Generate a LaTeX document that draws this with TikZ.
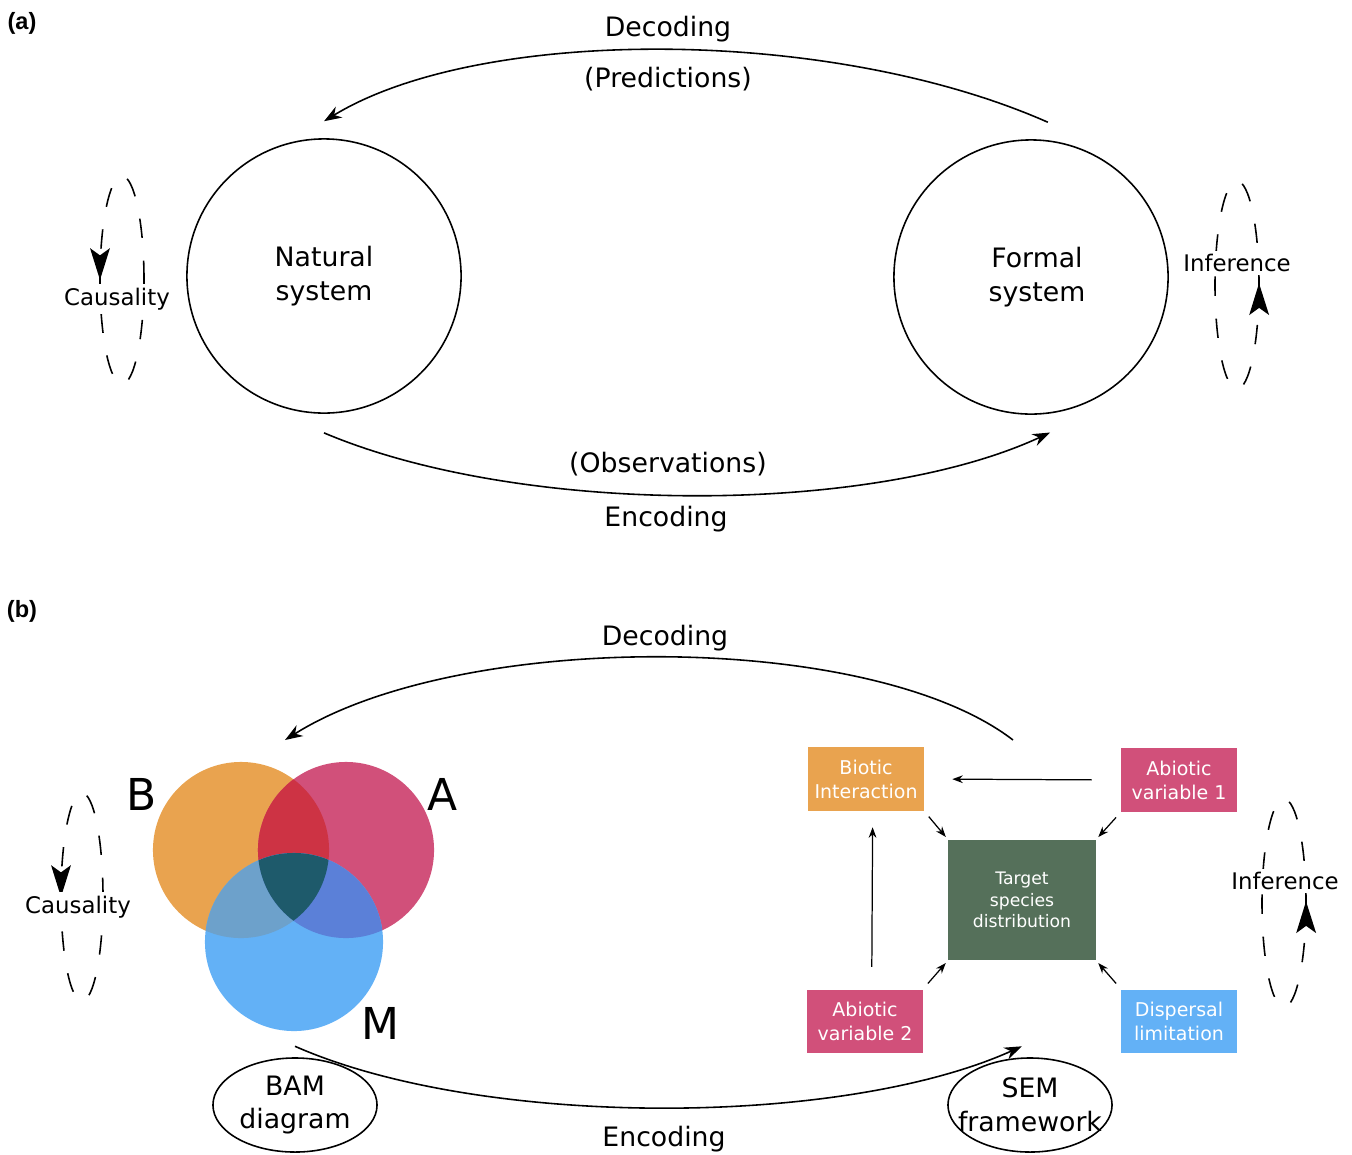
\documentclass[tikz,border=0pt]{standalone}
\usepackage{fontspec}
\setmainfont{DejaVu Sans}
\newfontfamily\panelfont{Liberation Sans}
\usepackage{xcolor}
\usetikzlibrary{arrows.meta}
\usetikzlibrary{shapes.geometric}
\usetikzlibrary{decorations.markings}

\definecolor{bcol}{HTML}{E9A34F}
\definecolor{acol}{HTML}{D1507A}
\definecolor{mcol}{HTML}{63B1F6}
\definecolor{bacol}{HTML}{CD3344}
\definecolor{bmcol}{HTML}{6DA1CB}
\definecolor{amcol}{HTML}{5B80D8}
\definecolor{bamcol}{HTML}{1E5A6B}
\definecolor{targetgreen}{HTML}{55705A}

\tikzset{
  sys/.style={circle,draw,line width=0.45pt,minimum size=2.74cm,inner sep=0pt,align=center,
    font=\fontsize{7.6}{9.6}\selectfont},
  theory/.style={inner sep=0pt,align=center,font=\fontsize{7.6}{9.6}\selectfont},
  arclab/.style={font=\fontsize{7.6}{9.6}\selectfont},
  panel/.style={font=\panelfont\bfseries\fontsize{6.7}{8}\selectfont},
  venn/.style={font=\fontsize{12.5}{14}\selectfont},
  feedbackloop/.style={draw,line width=0.45pt,dash pattern=on 5.5pt off 6.5pt},
  cycarrow/.style={postaction={decorate,decoration={markings,
    mark=at position #1 with {\arrow[line width=0.6pt]{Stealth[length=9pt,width=5.6pt,inset=2pt]}}}}},
  feedbacklab/.style={fill=white,inner sep=1pt,font=\fontsize{6.5}{8}\selectfont},
  varbox/.style={minimum width=1.15cm,minimum height=0.63cm,inner sep=0pt,text=white,
    align=center,font=\fontsize{5.4}{6.8}\selectfont},
  flow/.style={->,>={Stealth[length=5pt,width=3.6pt,inset=1.6pt]},line width=0.45pt},
  pathlink/.style={->,>={Stealth[length=3pt,width=2.2pt]},line width=0.35pt},
}

\begin{document}
\begin{tikzpicture}[x=0.01cm,y=-0.01cm]
\useasboundingbox (0,0) rectangle (1352,1154);

% (a) natural and formal system
\node[panel] (pa) at (22,23) {(a)};
\node[sys] (natural) at (324,276) {Natural\\system};
\node[sys] (formal) at (1031,277) {\hspace*{0.12cm}Formal\\\hspace*{0.12cm}system};

\draw[flow] ([yshift=5.1pt]formal.83) .. controls (830,26) and (480,26) .. ([yshift=4.8pt]natural.90);
\draw[flow] ([yshift=-5.4pt]natural.270) .. controls (520,516) and (870,516) .. ([yshift=-5.4pt]formal.278);
\node[arclab] (deca) at (668,29) {Decoding};
\node[arclab] (pred) at (668,79) {(Predictions)};
\node[arclab] (obs) at (668,464) {(Observations)};
\node[arclab] (enca) at (666,519) {Encoding};

\draw[feedbackloop,cycarrow=0.5] (122,280) ellipse [x radius=0.22cm,y radius=1.04cm];
\node[feedbacklab] (causa) at (117,299) {Causality};
\draw[feedbackloop,cycarrow=0.004] (1237,285) ellipse [x radius=0.22cm,y radius=1.04cm];
\node[feedbacklab] (infa) at (1237,263) {Inference};

% (b) BAM diagram and SEM
\node[panel] (pb) at (22,611) {(b)};

\coordinate (cB) at (241,850);
\coordinate (cA) at (346,850);
\coordinate (cM) at (294,942);
\fill[bcol] (cB) circle [radius=0.88cm];
\fill[acol] (cA) circle [radius=0.88cm];
\fill[mcol] (cM) circle [radius=0.89cm];
\begin{scope}
  \clip (cB) circle [radius=0.88cm];
  \fill[bacol] (cA) circle [radius=0.88cm];
  \fill[bmcol] (cM) circle [radius=0.89cm];
\end{scope}
\begin{scope}
  \clip (cA) circle [radius=0.88cm];
  \fill[amcol] (cM) circle [radius=0.89cm];
  \clip (cB) circle [radius=0.88cm];
  \fill[bamcol] (cM) circle [radius=0.89cm];
\end{scope}
\node[venn] (lb) at (142,794) {B};
\node[venn] (la) at (443,794) {A};
\node[venn] (lm) at (380,1023) {M};

\node[theory] (bam) at (295,1105) {BAM\\diagram};
\draw[line width=0.45pt] (bam) ellipse [x radius=0.82cm,y radius=0.47cm];
\node[theory] (sem) at (1030,1105) {SEM\\framework};
\draw[line width=0.45pt] (sem) ellipse [x radius=0.82cm,y radius=0.47cm];

\node[varbox,fill=bcol] (biotic) at (866,779) {Biotic\\Interaction};
\node[varbox,fill=acol] (abio1) at (1179,780) {Abiotic\\variable 1};
\node[varbox,fill=acol] (abio2) at (865,1021) {Abiotic\\variable 2};
\node[varbox,fill=mcol] (dispersal) at (1179,1021) {Dispersal\\limitation};
\node[varbox,fill=targetgreen,minimum width=1.47cm,minimum height=1.2cm,
  font=\fontsize{4.9}{6.2}\selectfont] (target) at (1022,900) {Target\\species\\distribution};

\draw[pathlink,shorten <=0.29cm,shorten >=0.28cm] (abio1.west) -- (biotic.east);
\draw[pathlink,shorten <=0.22cm,shorten >=0.16cm] ([xshift=1.9pt]abio2.north) -- ([xshift=1.9pt]biotic.south);
\draw[pathlink,shorten <=0.07cm,shorten >=0.03cm] (biotic.south east) -- (target.north west);
\draw[pathlink,shorten <=0.07cm,shorten >=0.03cm] (abio1.south west) -- (target.north east);
\draw[pathlink,shorten <=0.07cm,shorten >=0.03cm] (abio2.north east) -- (target.south west);
\draw[pathlink,shorten <=0.07cm,shorten >=0.03cm] (dispersal.north west) -- (target.south east);

\coordinate (semtop) at (1013,740);
\coordinate (venntop) at (285,740);
\draw[flow] (semtop) .. controls (870,630) and (460,630) .. (venntop);
\draw[flow] ([yshift=16.7pt]bam.center) .. controls (480,1128) and (840,1128) .. ([xshift=-2.3pt,yshift=16.7pt]sem.center);
\node[arclab] (decb) at (665,638) {Decoding};
\node[arclab] (encb) at (664,1139) {Encoding};

\draw[feedbackloop,cycarrow=0.5] (82,897) ellipse [x radius=0.21cm,y radius=1.04cm];
\node[feedbacklab] (causb) at (78,907) {Causality};
\draw[feedbackloop,cycarrow=0.004] (1284,903) ellipse [x radius=0.22cm,y radius=1.04cm];
\node[feedbacklab] (infb) at (1285,881) {Inference};
\end{tikzpicture}
\end{document}
